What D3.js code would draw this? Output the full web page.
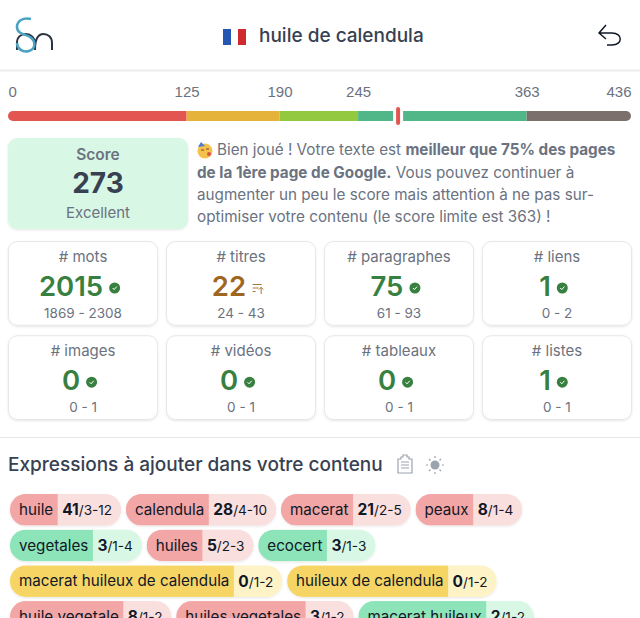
<!DOCTYPE html>
<html>
<head>
<meta charset="utf-8">
<script src="https://cdn.jsdelivr.net/npm/d3@7"></script>
<style>
  html, body { margin: 0; padding: 0; background: #fff; overflow: hidden; }
  svg { display: block; font-family: Inter, "Noto Sans", sans-serif; }
</style>
</head>
<body>
<svg id="chart" width="640" height="618"></svg>
<script>
// score bar
const scoreTicks = [0, 125, 190, 245, 363, 436];
const scoreColors = ['#e25550', '#e5b23a', '#93c93f', '#52b788', '#7b706c'];
const scoreValue = 273;

// metric cards
const metricNames = ['# mots', '# titres', '# paragraphes', '# liens', '# images', '# vidéos', '# tableaux', '# listes'];
const metricValues = [2015, 22, 75, 1, 0, 0, 0, 1];
const metricRanges = ['1869 - 2308', '24 - 43', '61 - 93', '0 - 2', '0 - 1', '0 - 1', '0 - 1', '0 - 1'];
const metricStatus = ['ok', 'low', 'ok', 'ok', 'ok', 'ok', 'ok', 'ok'];

// expressions
const exprNames = ['huile', 'calendula', 'macerat', 'peaux', 'vegetales', 'huiles', 'ecocert',
  'macerat huileux de calendula', 'huileux de calendula', 'huile vegetale', 'huiles vegetales', 'macerat huileux'];
const exprCounts = [41, 28, 21, 8, 3, 5, 3, 0, 0, 8, 3, 2];
const exprRanges = ['3-12', '4-10', '2-5', '1-4', '1-4', '2-3', '1-3', '1-2', '1-2', '1-2', '1-2', '1-2'];
const exprStatus = ['over', 'over', 'over', 'over', 'ok', 'over', 'ok', 'none', 'none', 'over', 'over', 'ok'];

const svg = d3.select('#chart');
const W = 640;
const gray = '#6b7280', dark = '#374151';

const defs = svg.append('defs');
const shadow = defs.append('filter').attr('id', 'soft').attr('x', '-5%').attr('y', '-5%').attr('width', '110%').attr('height', '115%');
shadow.append('feDropShadow').attr('dx', 0).attr('dy', 1).attr('stdDeviation', 1).attr('flood-color', '#000').attr('flood-opacity', 0.1);

function label(g, x, y, str, size, weight, fill, anchor) {
  return g.append('text').attr('x', x).attr('y', y).attr('dy', '0.35em')
    .attr('font-size', size).attr('font-weight', weight).attr('fill', fill)
    .attr('text-anchor', anchor || 'middle').text(str);
}

// ---- header
const head = svg.append('g');
head.append('path').attr('d', 'M17 50V43C17 37 21 34 26 34C31 34 35 38 35 43V50C35 37 39 34 43.5 34C48 34 52 37 52 43V50')
  .attr('fill', 'none').attr('stroke', '#2b3440').attr('stroke-width', 2);
head.append('path').attr('d', 'M31 19C23 17 17 21 17 27C17 34 25 34 30 37C36 41 36 49 29 51C22 53 17 48 17 43')
  .attr('fill', 'none').attr('stroke', '#4ba3c3').attr('stroke-width', 2.6);
head.append('rect').attr('x', 223).attr('y', 29).attr('width', 8).attr('height', 16).attr('fill', '#2556b0');
head.append('rect').attr('x', 238).attr('y', 29).attr('width', 8).attr('height', 16).attr('fill', '#cf2a2e');
label(head, 259, 35, 'huile de calendula', 19, 500, dark, 'start');
head.append('path').attr('d', 'M606 25L599 33L606 39M599 33H612C623 33 623 45 612 45H607')
  .attr('fill', 'none').attr('stroke', '#111827').attr('stroke-width', 1.5);
head.append('line').attr('x1', 0).attr('x2', W).attr('y1', 70.5).attr('y2', 70.5).attr('stroke', '#ececec').attr('stroke-width', 2);

// ---- score bar
const x = d3.scaleLinear().domain([0, 436]).range([8, 631]);
const bar = svg.append('g');
const axis = d3.axisTop(x).tickValues(scoreTicks).tickSize(0).tickFormat(d3.format('d'));
const axisG = bar.append('g').attr('transform', 'translate(0,99.5)').call(axis);
axisG.select('.domain').remove();
axisG.selectAll('text').attr('font-family', null).attr('font-size', 15).attr('fill', gray)
  .attr('text-anchor', (d, i) => i === 0 ? 'start' : i === scoreTicks.length - 1 ? 'end' : 'middle');

defs.append('clipPath').attr('id', 'barClip').append('rect')
  .attr('x', x(0)).attr('y', 111).attr('width', x(436) - x(0)).attr('height', 10).attr('rx', 5);
bar.append('g').attr('clip-path', 'url(#barClip)').selectAll('rect').data(scoreColors).join('rect')
  .attr('x', (d, i) => x(scoreTicks[i]))
  .attr('width', (d, i) => x(scoreTicks[i + 1]) - x(scoreTicks[i]))
  .attr('y', 111).attr('height', 10).attr('fill', d => d);
bar.append('rect').attr('x', x(scoreValue) - 5).attr('y', 108).attr('width', 10).attr('height', 18).attr('fill', '#fff');
bar.append('rect').attr('x', x(scoreValue) - 2).attr('y', 107).attr('width', 4).attr('height', 18).attr('rx', 2).attr('fill', '#e25550');

// ---- score card and message
const score = svg.append('g');
score.append('rect').attr('x', 8).attr('y', 138).attr('width', 180).attr('height', 91).attr('rx', 9)
  .attr('fill', '#d8f7e5').attr('filter', 'url(#soft)');
label(score, 98, 154.5, 'Score', 15.5, 600, gray);
label(score, 98, 183, String(scoreValue), 28, 700, dark);
label(score, 98, 212.5, 'Excellent', 15, 400, gray);

// party face
score.append('circle').attr('cx', 205).attr('cy', 151).attr('r', 7.5).attr('fill', '#f6c04d');
score.append('path').attr('d', 'M198 147L201 142L205 146Z').attr('fill', '#4a7fd0');
score.append('circle').attr('cx', 209).attr('cy', 154).attr('r', 2).attr('fill', '#d9534f');
score.append('path').attr('d', 'M201 150h3M206 149h3').attr('stroke', '#6b4a1f').attr('stroke-width', 1);

const msg = [
  [['Bien joué ! Votre texte est ', 400], ['meilleur que 75% des pages', 700]],
  [['de la 1ère page de Google.', 700], [' Vous pouvez continuer à', 400]],
  [['augmenter un peu le score mais attention à ne pas sur-', 400]],
  [['optimiser votre contenu (le score limite est 363) !', 400]]
];
msg.forEach((line, i) => {
  const t = score.append('text').attr('x', i === 0 ? 217 : 197).attr('y', 150 + i * 22.3).attr('dy', '0.35em')
    .attr('font-size', 15.25).attr('fill', gray).attr('xml:space', 'preserve');
  line.forEach(p => t.append('tspan').attr('font-weight', p[1]).text(p[0]));
});

// ---- metric cards
const cols = d3.scaleBand().domain(d3.range(4)).range([8, 632]).paddingInner(0.05);
const rows = d3.scaleBand().domain(d3.range(2)).range([241, 420]).paddingInner(0.1);
const cards = svg.append('g').selectAll('g').data(metricNames).join('g')
  .attr('transform', (d, i) => `translate(${cols(i % 4)},${rows(Math.floor(i / 4))})`);
const cw = cols.bandwidth(), ch = rows.bandwidth();
cards.append('rect').attr('x', 0.5).attr('y', 0.5).attr('width', cw - 1).attr('height', ch - 1).attr('rx', 9)
  .attr('fill', '#fff').attr('stroke', '#e5e7eb').attr('filter', 'url(#soft)');
cards.each(function (d, i) {
  const g = d3.select(this);
  const color = metricStatus[i] === 'ok' ? '#38803f' : '#a0651f';
  label(g, cw / 2, 16, d, 15, 400, gray);
  const v = label(g, cw / 2 - 12, 45, String(metricValues[i]), 27.5, 600, color);
  const vw = v.node().getComputedTextLength();
  const ix = cw / 2 - 12 + vw / 2 + 11.5;
  if (metricStatus[i] === 'ok') {
    g.append('circle').attr('cx', ix).attr('cy', 47).attr('r', 5.5).attr('fill', color);
    g.append('path').attr('d', `M${ix - 2} 47l1.5 1.6l2.6 -3`).attr('fill', 'none').attr('stroke', '#fff').attr('stroke-width', 1);
  } else {
    g.append('path').attr('d', `M${ix - 5} 43.5h9M${ix - 5} 47h6M${ix - 5} 50.5h3M${ix + 3.5} 53v-6.5m-2.2 2l2.2 -2.2l2.2 2.2`)
      .attr('fill', 'none').attr('stroke', color).attr('stroke-width', 0.9);
  }
  label(g, cw / 2, 72, metricRanges[i], 13.5, 400, gray);
});

// ---- expressions
const expr = svg.append('g');
expr.append('line').attr('x1', 0).attr('x2', W).attr('y1', 437.5).attr('y2', 437.5).attr('stroke', '#e5e7eb');
label(expr, 8, 464, 'Expressions à ajouter dans votre contenu', 19, 500, dark, 'start');
expr.append('path').attr('d', 'M398 459h3v-2h2v-2h4v2h2v2h3v14h-14zM401 462h8M401 465h8M401 468h8')
  .attr('fill', 'none').attr('stroke', '#9ca3af').attr('stroke-width', 1.2);
expr.append('circle').attr('cx', 435).attr('cy', 465).attr('r', 4.5).attr('fill', '#9ca3af');
expr.append('path').attr('d', 'M435 456v2M435 472v2M426 465h2M442 465h2M429 459l1.5 1.5M439.5 469.5l1.5 1.5M441 459l-1.5 1.5M430.5 469.5l-1.5 1.5')
  .attr('stroke', '#9ca3af').attr('stroke-width', 1.2);

const pillColors = {
  over: ['#f2a6a6', '#fadfdf'],
  ok: ['#8ce4b8', '#d8f7e5'],
  none: ['#f6d565', '#fdf3c7']
};
const pillH = 31.5, rowStep = 35.7, startX = 10, startY = 494, gap = 4.8, maxX = 632;
const padOut = 9, padIn = 4.5;
let px = startX, py = startY;
exprNames.forEach((name, i) => {
  const g = expr.append('g');
  const c = pillColors[exprStatus[i]];
  const nameT = label(g, 0, pillH / 2, name, 15.2, 400, '#111827', 'start');
  const valT = g.append('text').attr('y', pillH / 2).attr('dy', '0.35em').attr('fill', '#111827');
  valT.append('tspan').attr('font-size', 15.5).attr('font-weight', 700).text(exprCounts[i]);
  valT.append('tspan').attr('font-size', 13.6).text('/' + exprRanges[i]);
  const nw = nameT.node().getComputedTextLength() + padOut + padIn;
  const vw = valT.node().getComputedTextLength() + padOut + padIn;
  if (px + nw + vw > maxX) { px = startX; py += rowStep; }
  g.attr('transform', `translate(${px},${py})`);
  const id = 'pill' + i;
  defs.append('clipPath').attr('id', id).append('rect').attr('width', nw + vw).attr('height', pillH).attr('rx', pillH / 2);
  g.insert('rect', 'text').attr('width', nw + vw).attr('height', pillH).attr('rx', pillH / 2).attr('fill', c[1]).attr('filter', 'url(#soft)');
  g.insert('rect', 'text').attr('width', nw).attr('height', pillH).attr('fill', c[0]).attr('clip-path', `url(#${id})`);
  nameT.attr('x', padOut);
  valT.attr('x', nw + padIn);
  px += nw + vw + gap;
});
</script>
</body>
</html>
